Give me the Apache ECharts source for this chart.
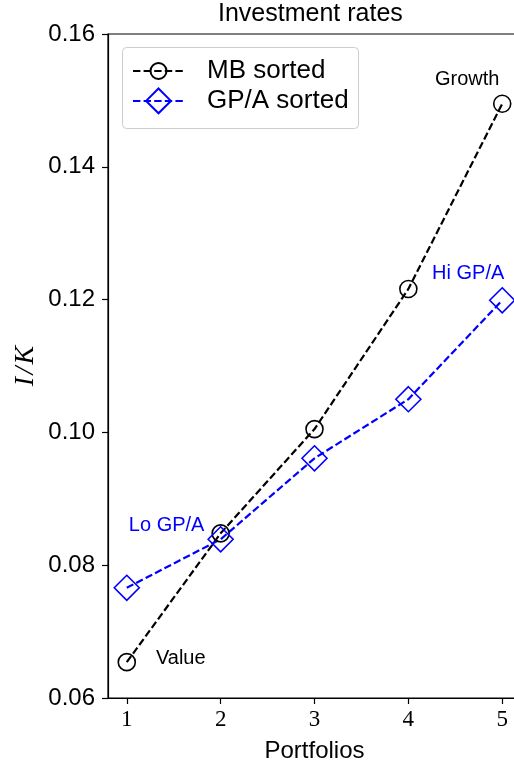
<!DOCTYPE html>
<html>
<head>
<meta charset="utf-8">
<script src="https://cdn.jsdelivr.net/npm/echarts@6/dist/echarts.min.js"></script>
<style>
html,body{margin:0;padding:0;background:#fff;}
#chart{width:514px;height:763px;}
</style>
</head>
<body>
<div id="chart"></div>
<script>
const portfolios = [1, 2, 3, 4, 5];
const mbSorted = [0.0654, 0.0848, 0.1005, 0.1216, 0.1495];
const gpaSorted = [0.0766, 0.0839, 0.0961, 0.1050, 0.1199];
const yTicks = [0.06, 0.08, 0.10, 0.12, 0.14, 0.16];
const mbLabels = {0: 'Value', 4: 'Growth'};
const gpaLabels = {1: 'Lo GP/A', 4: 'Hi GP/A'};

const SANS = 'Liberation Sans, Arial, Helvetica, sans-serif';
const SERIF = 'Liberation Serif, DejaVu Serif, serif';

const chart = echarts.init(document.getElementById('chart'), null, {renderer: 'canvas'});

const mbOffsets = {0: [54, -4], 4: [-35, -24]};
const gpaOffsets = {1: [-54, -14], 4: [-34, -27]};

function buildData(vals, labels, offsets, color) {
  return portfolios.map((p, i) => {
    const item = {value: [p, vals[i]]};
    if (labels[i] !== undefined) {
      item.label = {
        show: true, position: 'inside', offset: offsets[i],
        formatter: labels[i], color: color, fontSize: 20, fontFamily: SANS
      };
    }
    return item;
  });
}

const legendText = {fontFamily: SANS, fontSize: 26, color: '#000', padding: [0, 0, 0, 18]};

const option = {
  animation: false,
  backgroundColor: '#fff',
  title: {
    text: 'Investment rates',
    left: 218, top: 2, padding: 0,
    textStyle: {fontFamily: SANS, fontSize: 25, fontWeight: 'normal', color: '#000'}
  },
  graphic: [{
    type: 'rect', z: 3, silent: true,
    shape: {x: 122.5, y: 47.5, width: 236, height: 81, r: 4},
    style: {fill: '#fff', stroke: '#cccccc', lineWidth: 1}
  }],
  legend: [
    {
      orient: 'vertical', left: 132, top: 58, padding: 0,
      itemWidth: 51, itemHeight: 20, z: 5,
      textStyle: legendText,
      data: ['MB sorted']
    },
    {
      orient: 'vertical', left: 132, top: 87.5, padding: 0,
      itemWidth: 51, itemHeight: 31, z: 5,
      textStyle: legendText,
      data: ['GP/A sorted']
    }
  ],
  grid: {
    left: 108, top: 34, width: 413, height: 664,
    outerBoundsMode: 'none', containLabel: false,
    show: true, borderColor: '#000', borderWidth: 1.2, backgroundColor: 'transparent'
  },
  xAxis: {
    type: 'value', min: 0.8, max: 5.2,
    name: 'Portfolios', nameLocation: 'middle', nameGap: 41, nameMoveOverlap: false,
    nameTextStyle: {fontFamily: SANS, fontSize: 24, color: '#000'},
    axisLine: {show: true, onZero: false, lineStyle: {color: '#000', width: 1.2}},
    axisTick: {show: true, inside: false, length: 6, customValues: portfolios, lineStyle: {color: '#000', width: 1.2}},
    axisLabel: {customValues: portfolios, fontFamily: SERIF, fontSize: 23, color: '#000', margin: 10},
    splitLine: {show: false}
  },
  yAxis: {
    type: 'value', min: 0.06, max: 0.16, interval: 0.02,
    name: 'I\u200a/\u200aK', nameLocation: 'middle', nameGap: 68, nameMoveOverlap: false,
    nameTextStyle: {fontFamily: SERIF, fontStyle: 'italic', fontSize: 28, color: '#000'},
    axisLine: {show: true, onZero: false, lineStyle: {color: '#000', width: 1.2}},
    axisTick: {show: true, inside: false, length: 6, lineStyle: {color: '#000', width: 1.2}},
    axisLabel: {formatter: v => v.toFixed(2), fontFamily: SANS, fontSize: 24, color: '#000', margin: 13},
    splitLine: {show: false}
  },
  series: [
    {
      name: 'MB sorted', type: 'line',
      data: buildData(mbSorted, mbLabels, mbOffsets, '#000'),
      symbol: 'circle', symbolSize: 17,
      lineStyle: {color: '#000', width: 2.2, type: [7.4, 3.2]},
      itemStyle: {color: 'rgba(0,0,0,0)', borderColor: '#000', borderWidth: 1.6},
      emphasis: {disabled: true}
    },
    {
      name: 'GP/A sorted', type: 'line',
      data: buildData(gpaSorted, gpaLabels, gpaOffsets, '#0000ff'),
      symbol: 'diamond', symbolSize: 25,
      lineStyle: {color: '#0000ff', width: 2.2, type: [7.4, 3.2]},
      itemStyle: {color: 'rgba(0,0,0,0)', borderColor: '#0000ff', borderWidth: 1.6},
      emphasis: {disabled: true}
    }
  ]
};
chart.setOption(option);
</script>
</body>
</html>
